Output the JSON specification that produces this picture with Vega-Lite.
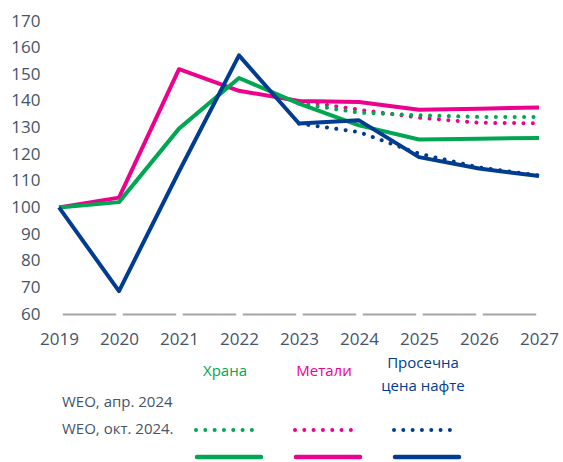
{
  "$schema": "https://vega.github.io/schema/vega-lite/v6.json",
  "padding": {"left": 10, "top": 12, "right": 0, "bottom": 0},
  "spacing": 0,
  "config": {
    "view": {"stroke": null},
    "font": "Open Sans",
    "axis": {"labelFont": "Open Sans", "labelColor": "#44546a", "labelFontSize": 17}
  },
  "datasets": {
    "prices": [
      {"year": 2019, "series": "Метали", "vintage": "окт", "value": 100},
      {"year": 2020, "series": "Метали", "vintage": "окт", "value": 103.7},
      {"year": 2021, "series": "Метали", "vintage": "окт", "value": 151.9},
      {"year": 2022, "series": "Метали", "vintage": "окт", "value": 143.8},
      {"year": 2023, "series": "Метали", "vintage": "окт", "value": 140},
      {"year": 2024, "series": "Метали", "vintage": "окт", "value": 139.6},
      {"year": 2025, "series": "Метали", "vintage": "окт", "value": 136.7},
      {"year": 2026, "series": "Метали", "vintage": "окт", "value": 137.1},
      {"year": 2027, "series": "Метали", "vintage": "окт", "value": 137.5},
      {"year": 2019, "series": "Храна", "vintage": "окт", "value": 100},
      {"year": 2020, "series": "Храна", "vintage": "окт", "value": 102},
      {"year": 2021, "series": "Храна", "vintage": "окт", "value": 129.6},
      {"year": 2022, "series": "Храна", "vintage": "окт", "value": 148.6},
      {"year": 2023, "series": "Храна", "vintage": "окт", "value": 139},
      {"year": 2024, "series": "Храна", "vintage": "окт", "value": 130.8},
      {"year": 2025, "series": "Храна", "vintage": "окт", "value": 125.5},
      {"year": 2026, "series": "Храна", "vintage": "окт", "value": 125.8},
      {"year": 2027, "series": "Храна", "vintage": "окт", "value": 126.1},
      {"year": 2019, "series": "Просечна цена нафте", "vintage": "окт", "value": 100},
      {"year": 2020, "series": "Просечна цена нафте", "vintage": "окт", "value": 68.6},
      {"year": 2021, "series": "Просечна цена нафте", "vintage": "окт", "value": 113.5},
      {"year": 2022, "series": "Просечна цена нафте", "vintage": "окт", "value": 157.1},
      {"year": 2023, "series": "Просечна цена нафте", "vintage": "окт", "value": 131.5},
      {"year": 2024, "series": "Просечна цена нафте", "vintage": "окт", "value": 132.7},
      {"year": 2025, "series": "Просечна цена нафте", "vintage": "окт", "value": 118.9},
      {"year": 2026, "series": "Просечна цена нафте", "vintage": "окт", "value": 114.6},
      {"year": 2027, "series": "Просечна цена нафте", "vintage": "окт", "value": 111.8},
      {"year": 2023, "series": "Метали", "vintage": "апр", "value": 140},
      {"year": 2024, "series": "Метали", "vintage": "апр", "value": 136.7},
      {"year": 2025, "series": "Метали", "vintage": "апр", "value": 133.7},
      {"year": 2026, "series": "Метали", "vintage": "апр", "value": 131.8},
      {"year": 2027, "series": "Метали", "vintage": "апр", "value": 131.6},
      {"year": 2023, "series": "Храна", "vintage": "апр", "value": 139},
      {"year": 2024, "series": "Храна", "vintage": "апр", "value": 135.6},
      {"year": 2025, "series": "Храна", "vintage": "апр", "value": 134.6},
      {"year": 2026, "series": "Храна", "vintage": "апр", "value": 134},
      {"year": 2027, "series": "Храна", "vintage": "апр", "value": 134},
      {"year": 2023, "series": "Просечна цена нафте", "vintage": "апр", "value": 131.5},
      {"year": 2024, "series": "Просечна цена нафте", "vintage": "апр", "value": 128.3},
      {"year": 2025, "series": "Просечна цена нафте", "vintage": "апр", "value": 120.2},
      {"year": 2026, "series": "Просечна цена нафте", "vintage": "апр", "value": 115},
      {"year": 2027, "series": "Просечна цена нафте", "vintage": "апр", "value": 112}
    ],
    "headers": [
      {"series": "Храна", "text": ["Храна"]},
      {"series": "Метали", "text": ["Метали"]},
      {"series": "Просечна цена нафте", "text": ["Просечна", "цена нафте"]}
    ],
    "rowLabels": [
      {"vintage": "апр", "text": "WEO, апр. 2024"},
      {"vintage": "окт", "text": "WEO, окт. 2024."}
    ],
    "samples": [
      {"series": "Храна", "vintage": "апр"},
      {"series": "Метали", "vintage": "апр"},
      {"series": "Просечна цена нафте", "vintage": "апр"},
      {"series": "Храна", "vintage": "окт"},
      {"series": "Метали", "vintage": "окт"},
      {"series": "Просечна цена нафте", "vintage": "окт"}
    ]
  },
  "vconcat": [
    {
      "width": 480,
      "height": 293,
      "data": {"name": "prices"},
      "encoding": {
        "x": {
          "field": "year", "type": "ordinal",
          "scale": {"type": "point", "padding": 0},
          "axis": {
            "title": null, "labelAngle": 0, "ticks": false, "labelPadding": 17,
            "domainColor": "#a6a6a6", "domainWidth": 2,
            "domainDash": [53.4, 6.6], "domainDashOffset": 56.7
          }
        },
        "y": {
          "field": "value", "type": "quantitative",
          "scale": {"domain": [60, 170], "nice": false, "zero": false},
          "axis": {
            "title": null, "domain": false, "ticks": false, "grid": false,
            "values": [60, 70, 80, 90, 100, 110, 120, 130, 140, 150, 160, 170],
            "labelPadding": 19
          }
        },
        "color": {
          "field": "series", "type": "nominal",
          "scale": {
            "domain": ["Храна", "Метали", "Просечна цена нафте"],
            "range": ["#00a651", "#ec008c", "#003c8f"]
          },
          "legend": null
        }
      },
      "layer": [
        {
          "transform": [{"filter": "datum.vintage === 'апр'"}],
          "mark": {"type": "line", "strokeWidth": 4, "strokeCap": "round", "strokeDash": [0.01, 9.4]}
        },
        {
          "transform": [{"filter": "datum.vintage === 'окт'"}],
          "mark": {"type": "line", "strokeWidth": 4, "strokeJoin": "round"}
        }
      ]
    },
    {
      "width": 480,
      "height": 110,
      "layer": [
        {
          "data": {"name": "headers"},
          "transform": [{"filter": "length(datum.text) === 1"}],
          "mark": {"type": "text", "fontSize": 15, "baseline": "middle", "align": "center", "dx": -4, "dy": -32.5, "lineHeight": 22},
          "encoding": {
            "x": {"field": "series", "type": "nominal", "scale": {"type": "point", "domain": ["label", "Храна", "Метали", "Просечна цена нафте"], "range": [71, 368], "padding": 0}, "axis": null},
            "y": {"datum": "header", "type": "nominal", "scale": {"type": "point", "domain": ["header", "апр", "окт"], "range": [56, 110], "padding": 0}, "axis": null},
            "text": {"field": "text"},
            "color": {"field": "series", "type": "nominal", "scale": {"domain": ["Храна", "Метали", "Просечна цена нафте"], "range": ["#00a651", "#ec008c", "#003c8f"]}, "legend": null}
          }
        },
        {
          "data": {"name": "headers"},
          "transform": [{"filter": "length(datum.text) > 1"}],
          "mark": {"type": "text", "fontSize": 15, "baseline": "middle", "align": "center", "dx": -4, "dy": -40, "lineHeight": 22.5},
          "encoding": {
            "x": {"field": "series", "type": "nominal", "axis": null},
            "y": {"datum": "header", "type": "nominal", "axis": null},
            "text": {"field": "text"},
            "color": {"field": "series", "type": "nominal", "legend": null}
          }
        },
        {
          "data": {"name": "rowLabels"},
          "mark": {"type": "text", "fontSize": 15, "baseline": "middle", "align": "left", "dx": -68, "dy": -28, "color": "#44546a"},
          "encoding": {
            "x": {"datum": "label", "type": "nominal", "axis": null},
            "y": {"field": "vintage", "type": "nominal", "axis": null},
            "text": {"field": "text"}
          }
        },
        {
          "data": {"name": "samples"},
          "transform": [{"filter": "datum.vintage === 'апр'"}],
          "mark": {"type": "rule", "strokeWidth": 4, "strokeCap": "round", "strokeDash": [0.01, 9.3], "xOffset": -33, "x2Offset": 30},
          "encoding": {
            "x": {"field": "series", "type": "nominal", "axis": null},
            "x2": {"field": "series"},
            "y": {"field": "vintage", "type": "nominal", "axis": null},
            "color": {"field": "series", "type": "nominal", "legend": null}
          }
        },
        {
          "data": {"name": "samples"},
          "transform": [{"filter": "datum.vintage === 'окт'"}],
          "mark": {"type": "rule", "strokeWidth": 4.5, "strokeCap": "round", "xOffset": -32, "x2Offset": 32},
          "encoding": {
            "x": {"field": "series", "type": "nominal", "axis": null},
            "x2": {"field": "series"},
            "y": {"field": "vintage", "type": "nominal", "axis": null},
            "color": {"field": "series", "type": "nominal", "legend": null}
          }
        }
      ]
    }
  ]
}
